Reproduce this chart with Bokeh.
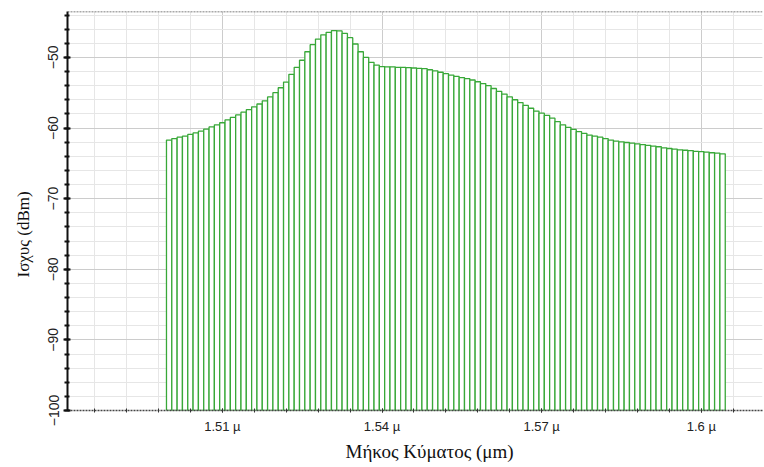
from bokeh.plotting import figure
from bokeh.models import Range1d, FixedTicker, Span, Title
from bokeh.embed import file_html
from bokeh.resources import INLINE

# Data: wavelength (µm) and power (dBm)
wavelength = [round(1.500 + 0.001 * i, 3) for i in range(105)]
power = [
    -61.7, -61.5, -61.3, -61.15, -60.9, -60.7, -60.45, -60.15, -59.85, -59.55,
    -59.25, -58.85, -58.5, -58.15, -57.75, -57.4, -57.0, -56.6, -56.15, -55.6,
    -55.0, -54.3, -53.5, -52.4, -51.4, -50.4, -49.2, -48.2, -47.4, -46.8,
    -46.45, -46.2, -46.25, -46.6, -47.2, -48.1, -49.2, -50.0, -50.7, -51.1,
    -51.3, -51.35, -51.35, -51.4, -51.4, -51.45, -51.5, -51.55, -51.6, -51.75,
    -51.9, -52.1, -52.3, -52.5, -52.7, -52.85, -53.0, -53.2, -53.45, -53.7,
    -54.0, -54.4, -54.8, -55.2, -55.6, -56.0, -56.4, -56.8, -57.2, -57.6,
    -57.9, -58.2, -58.6, -59.1, -59.55, -59.9, -60.2, -60.5, -60.75, -61.0,
    -61.15, -61.3, -61.5, -61.7, -61.85, -61.95, -62.05, -62.15, -62.25, -62.35,
    -62.45, -62.55, -62.65, -62.8, -62.9, -63.0, -63.1, -63.15, -63.2, -63.3,
    -63.35, -63.4, -63.5, -63.55, -63.65,
]
x_ticks = [1.51, 1.54, 1.57, 1.6]
x_tick_labels = ["1.51 µ", "1.54 µ", "1.57 µ", "1.6 µ"]
x_minor = [round(1.51 + 0.006 * k, 3) for k in range(-5, 17)]
y_ticks = [-100, -90, -80, -70, -60, -50]
y_minor = list(range(-100, -42, 2))
x_title = "Μήκος Κύματος (μm)"
y_title = "Ισχυς (dBm)"

X0, X1 = 1.4809, 1.6115
Y0, Y1 = -100, -43.5

p = figure(width=764, height=467, output_backend="svg", toolbar_location=None,
           x_range=Range1d(X0, X1), y_range=Range1d(Y0, Y1),
           min_border_left=67, min_border_right=2, min_border_top=11,
           min_border_bottom=57, background_fill_color="white",
           border_fill_color="white")
p.outline_line_color = None

p.vbar(x=wavelength, width=0.001, top=power, bottom=Y0,
       fill_color="white", line_color="#38a838", line_width=1.3)

# axes
p.xaxis.ticker = FixedTicker(ticks=x_ticks, minor_ticks=x_minor)
p.xaxis.major_label_overrides = dict(zip(x_ticks, x_tick_labels))
p.yaxis.ticker = FixedTicker(ticks=y_ticks, minor_ticks=y_minor)
p.yaxis.major_label_orientation = "vertical"

for ax in (p.xaxis[0], p.yaxis[0]):
    ax.major_label_text_font = "Liberation Sans"
    ax.major_label_text_color = "#222222"

p.xaxis.major_label_text_font_size = "13px"
p.yaxis.major_label_text_font_size = "14px"

p.yaxis.axis_line_color = "#111111"
p.yaxis.axis_line_width = 2
p.yaxis.major_tick_in = 3
p.yaxis.major_tick_out = 4
p.yaxis.minor_tick_in = 2
p.yaxis.minor_tick_out = 3
p.yaxis.major_tick_line_width = 2
p.yaxis.minor_tick_line_width = 2
p.yaxis.major_tick_line_color = "#111111"
p.yaxis.minor_tick_line_color = "#111111"
p.yaxis.major_label_standoff = 5

p.xaxis.axis_line_color = "#444444"
p.xaxis.axis_line_dash = "2 1"
p.xaxis.axis_line_width = 1.5
p.xaxis.major_tick_in = 2
p.xaxis.major_tick_out = 2
p.xaxis.minor_tick_in = 2
p.xaxis.minor_tick_out = 2
p.xaxis.major_tick_line_color = "#333333"
p.xaxis.minor_tick_line_color = "#333333"
p.xaxis.major_label_standoff = 6

# axis titles, placed off-centre like the reference
p.add_layout(Title(text=x_title, align="left", offset=278,
                   vertical_align="bottom", standoff=5,
                   text_font="Liberation Serif", text_font_size="19px",
                   text_font_style="normal", text_color="#111111"), "below")
p.add_layout(Title(text=y_title, align="left", offset=133,
                   vertical_align="top", standoff=21,
                   text_font="Liberation Serif", text_font_size="17px",
                   text_font_style="normal", text_color="#111111"), "left")

# grids
p.xgrid.grid_line_color = "#cccccc"
p.ygrid.grid_line_color = "#cccccc"
p.xgrid.minor_grid_line_color = "#e6e6e6"
p.ygrid.minor_grid_line_color = "#e6e6e6"

p.add_layout(Span(location=Y1, dimension="width", line_color="#555555",
                  line_dash="2 1", line_width=1.5))

open("out.html", "w").write(file_html(p, INLINE))
